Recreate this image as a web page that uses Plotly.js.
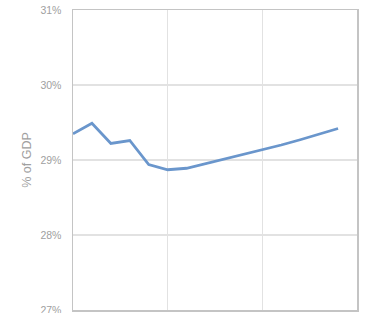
<!DOCTYPE html>
<html><head><meta charset="utf-8">
<script src="https://cdn.plot.ly/plotly-3.0.1.min.js"></script>
<style>html,body{margin:0;padding:0;background:#fff}#c{width:372px;height:313px}</style>
</head><body><div id="c"></div>
<script>
const years = [2010,2011,2012,2013,2014,2015,2016,2017,2018,2019,2020,2021,2022,2023,2024];
const shareOfGDP = [29.35,29.49,29.22,29.26,28.94,28.87,28.89,28.95,29.01,29.07,29.13,29.20,29.27,29.34,29.42];
const yTickVals = [27,28,29,30,31];
const yTickText = ['27%','28%','29%','30%','31%'];

Plotly.newPlot('c', [{
  x: years, y: shareOfGDP, type: 'scatter', mode: 'lines',
  line: {color: '#6a96cc', width: 2.8}
}], {
  width: 372, height: 313,
  margin: {l: 73, r: 15, t: 10, b: 3},
  paper_bgcolor: '#fff', plot_bgcolor: '#fff',
  showlegend: false,
  font: {family: 'Liberation Sans, Arial, sans-serif', color: '#999'},
  xaxis: {range: [2010, 2025], tickvals: [2010, 2015, 2020, 2025], showticklabels: false,
    showgrid: true, gridcolor: '#e2e2e2', gridwidth: 1.2, zeroline: false,
    showline: true, linecolor: '#c4c4c4', linewidth: 1.5, mirror: true, ticks: ''},
  yaxis: {range: [27, 31], tickvals: yTickVals, ticktext: yTickText,
    tickfont: {size: 10.5, color: '#a0a0a0'}, showgrid: true, gridcolor: '#e2e2e2', gridwidth: 1.2, zeroline: false,
    showline: true, linecolor: '#c4c4c4', linewidth: 1.5, mirror: true, ticks: '',
    ticklabelstandoff: 8, ticklabeloverflow: 'allow',
    automargin: false,
    title: {text: '% of GDP', font: {size: 12.5, color: '#a0a0a0'}, standoff: 6}}
}, {displayModeBar: false, staticPlot: true});
</script></body></html>
